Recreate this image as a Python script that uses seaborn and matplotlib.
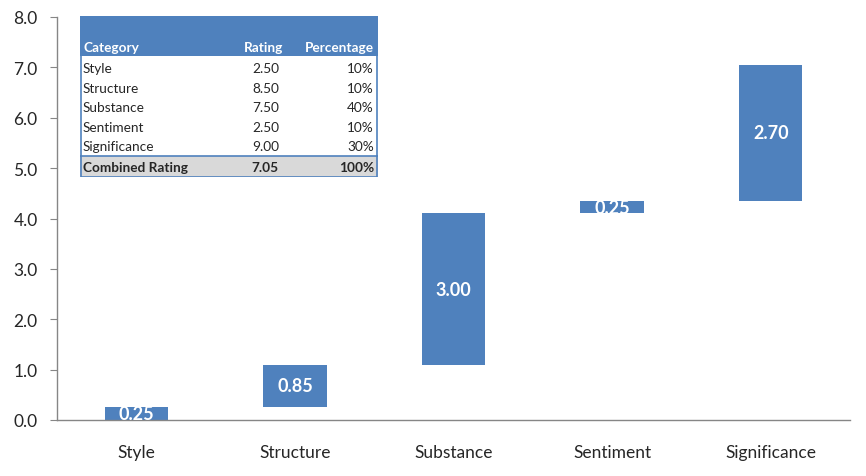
import seaborn as sns
import pandas as pd
import matplotlib.pyplot as plt
from matplotlib.patches import Rectangle

categories = ["Style", "Structure", "Substance", "Sentiment", "Significance"]
ratings = [2.50, 8.50, 7.50, 2.50, 9.00]
percentages = [10, 10, 40, 10, 30]
contributions = [0.25, 0.85, 3.00, 0.25, 2.70]
combined_rating = 7.05

bases = [sum(contributions[:i]) for i in range(len(contributions))]
df = pd.DataFrame({"Category": categories, "Contribution": contributions, "Base": bases})

sns.set_style("white")
plt.rcParams['font.family'] = ['Lato', 'DejaVu Sans']
blue = "#4F81BD"

fig = plt.figure(figsize=(8.66, 4.77), dpi=100)
ax = fig.add_axes([57 / 866, 56 / 477, 793 / 866, 403 / 477])

sns.barplot(data=df, x="Category", y="Contribution", bottom=df["Base"],
            color=blue, saturation=1, width=0.4, ax=ax, linewidth=0)

for i, (b, v) in enumerate(zip(bases, contributions)):
    ax.text(i, b + v / 2, f"{v:.2f}", ha="center", va="center",
            color="white", fontsize=13, fontweight="bold")

ax.set_ylim(0, 8)
ax.set_xlim(-0.5, 4.5)
ax.set_yticks([i for i in range(9)])
ax.set_yticklabels([f"{i:.1f}" for i in range(9)], fontsize=12.5)
ax.set_xlabel("")
ax.set_ylabel("")
ax.tick_params(axis="x", length=0, labelsize=12.5, pad=17)
ax.set_xticks([i - 0.5 for i in range(6)], minor=True)
ax.tick_params(axis="x", which="minor", length=6, color="#868686", direction="out")
ax.tick_params(axis="y", length=5, color="#868686", direction="out", left=True, pad=9)
for s in ["top", "right"]:
    ax.spines[s].set_visible(False)
for s in ["left", "bottom"]:
    ax.spines[s].set_color("#868686")
    ax.spines[s].set_linewidth(1)

# embedded table
tx = fig.add_axes([80 / 866, (477 - 178) / 477, 298 / 866, 161 / 477])
tx.set_xlim(0, 298)
tx.set_ylim(161, 0)
tx.axis("off")
tx.add_patch(Rectangle((0, 0), 298, 40, color=blue, lw=0))
tx.add_patch(Rectangle((0, 140), 298, 21, color="#D9D9D9", lw=0))
tx.plot([0.5, 0.5, 297.5, 297.5], [40, 160.5, 160.5, 40], color=blue, lw=1.2)
tx.plot([0, 298], [140, 140], color=blue, lw=1.2)

fs = 9.8
ty = 31
tx.text(3, ty, "Category", color="white", fontweight="bold", fontsize=fs, va="center")
tx.text(203, ty, "Rating", color="white", fontweight="bold", fontsize=fs, va="center", ha="right")
tx.text(294, ty, "Percentage", color="white", fontweight="bold", fontsize=fs, va="center", ha="right")
for i, (c, r, p) in enumerate(zip(categories, ratings, percentages)):
    y = 52 + i * 19.6
    tx.text(3, y, c, fontsize=fs, va="center")
    tx.text(199, y, f"{r:.2f}", fontsize=fs, va="center", ha="right")
    tx.text(294, y, f"{p}%", fontsize=fs, va="center", ha="right")
yc = 150.5
tx.text(3, yc, "Combined Rating", fontsize=fs, va="center", fontweight="bold")
tx.text(199, yc, f"{combined_rating:.2f}", fontsize=fs, va="center", ha="right", fontweight="bold")
tx.text(294, yc, f"{sum(percentages)}%", fontsize=fs, va="center", ha="right", fontweight="bold")

plt.savefig("out.png", dpi=100)
